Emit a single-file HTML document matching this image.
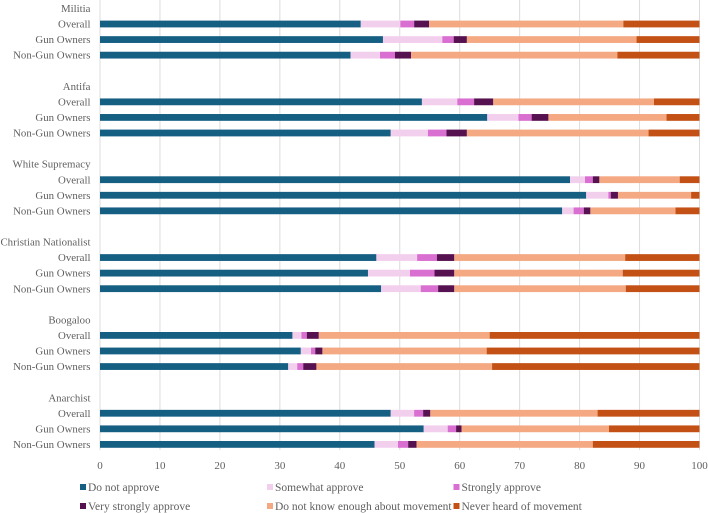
<!DOCTYPE html>
<html>
<head>
<meta charset="utf-8">
<style>
html,body{margin:0;padding:0;background:#fff;}
svg{display:block;}
text{font-family:"Liberation Serif",serif;fill:#5f5f5f;}
</style>
</head>
<body>
<svg id="chart" width="708" height="513" viewBox="0 0 708 513" xmlns="http://www.w3.org/2000/svg"></svg>
<script>
const groups = ["Militia", "Antifa", "White Supremacy", "Christian Nationalist", "Boogaloo", "Anarchist"];
const subgroups = ["Overall", "Gun Owners", "Non-Gun Owners"];
const xTicks = [0, 10, 20, 30, 40, 50, 60, 70, 80, 90, 100];
const seriesNames = ["Do not approve", "Somewhat approve", "Strongly approve", "Very strongly approve", "Do not know enough about movement", "Never heard of movement"];
const seriesColors = ["#155f83", "#f3cfee", "#d96fd0", "#561250", "#f4a983", "#c35115"];
const doNotApprove = [43.5, 47.2, 41.8, 53.7, 64.6, 48.5, 78.4, 81.1, 77.1, 46.1, 44.7, 46.9, 32.1, 33.5, 31.4, 48.5, 54.0, 45.8];
const somewhatApprove = [6.6, 9.9, 4.9, 5.9, 5.2, 6.2, 2.5, 3.7, 1.9, 6.8, 7.0, 6.6, 1.5, 1.7, 1.5, 3.9, 4.0, 3.9];
const stronglyApprove = [2.3, 1.9, 2.5, 2.8, 2.2, 3.1, 1.3, 0.4, 1.7, 3.3, 4.1, 2.9, 0.9, 0.7, 1.0, 1.5, 1.4, 1.7];
const veryStronglyApprove = [2.5, 2.2, 2.7, 3.2, 2.8, 3.4, 1.1, 1.2, 1.1, 2.9, 3.3, 2.7, 2.0, 1.2, 2.2, 1.2, 0.9, 1.4];
const doNotKnow = [32.4, 28.3, 34.4, 26.8, 19.7, 30.3, 13.4, 12.2, 14.2, 28.5, 28.1, 28.6, 28.5, 27.4, 29.3, 27.9, 24.6, 29.4];
const neverHeard = [12.7, 10.5, 13.7, 7.6, 5.5, 8.5, 3.3, 1.4, 4.0, 12.4, 12.8, 12.3, 35.0, 35.5, 34.6, 17.0, 15.1, 17.8];
const allSeries = [doNotApprove, somewhatApprove, stronglyApprove, veryStronglyApprove, doNotKnow, neverHeard];

const NS = "http://www.w3.org/2000/svg";
const svg = document.getElementById("chart");
function xScale(v) { return 100 + v * 5.995; }
function rowY(r) { return 8.43 + r * 15.57; }
function make(tag, attrs, parent) {
  const el = document.createElementNS(NS, tag);
  for (const k in attrs) el.setAttribute(k, attrs[k]);
  parent.appendChild(el);
  return el;
}

xTicks.forEach(function (t) {
  const line = make("line", {x1: xScale(t), x2: xScale(t), y1: 0, y2: 450, stroke: "#dcdcdc", "stroke-width": 1}, svg);
  
  
  const label = make("text", {x: xScale(t), y: 469, "text-anchor": "middle", "font-size": 11}, svg);
  
  
  label.textContent = t;
});

groups.forEach(function (g, gi) {
  const base = gi * 5;
  const gl = make("text", {x: 90.5, y: rowY(base) + 3.6, "text-anchor": "end", "font-size": 10.85}, svg);
  
  
  gl.textContent = g;
  subgroups.forEach(function (s, si) {
    const r = base + si + 1;
    const sl = make("text", {x: 90.5, y: rowY(r) + 3.6, "text-anchor": "end", "font-size": 10.85}, svg);
    
    
    sl.textContent = s;
    let cum = 0;
    const idx = gi * 3 + si;
    allSeries.forEach(function (vals, k) {
      const v = vals[idx];
      const seg = make("rect", {x: xScale(cum), y: rowY(r) - 3.4, width: xScale(cum + v) - xScale(cum), height: 6.8, fill: seriesColors[k]}, svg);
      
      
      cum += v;
    });
  });
});

const legendCols = [80, 267, 453.5];
const legendRows = [487, 506];
seriesNames.forEach(function (n, i) {
  const cx = legendCols[i % 3];
  const cy = legendRows[Math.floor(i / 3)];
  const sw = make("rect", {x: cx, y: cy - 3, width: 6, height: 6, fill: seriesColors[i]}, svg);
  
  
  const t = make("text", {x: cx + 8, y: cy + 3.8, "font-size": 11.5}, svg);
  
  
  t.textContent = n;
});
</script>
</body>
</html>
